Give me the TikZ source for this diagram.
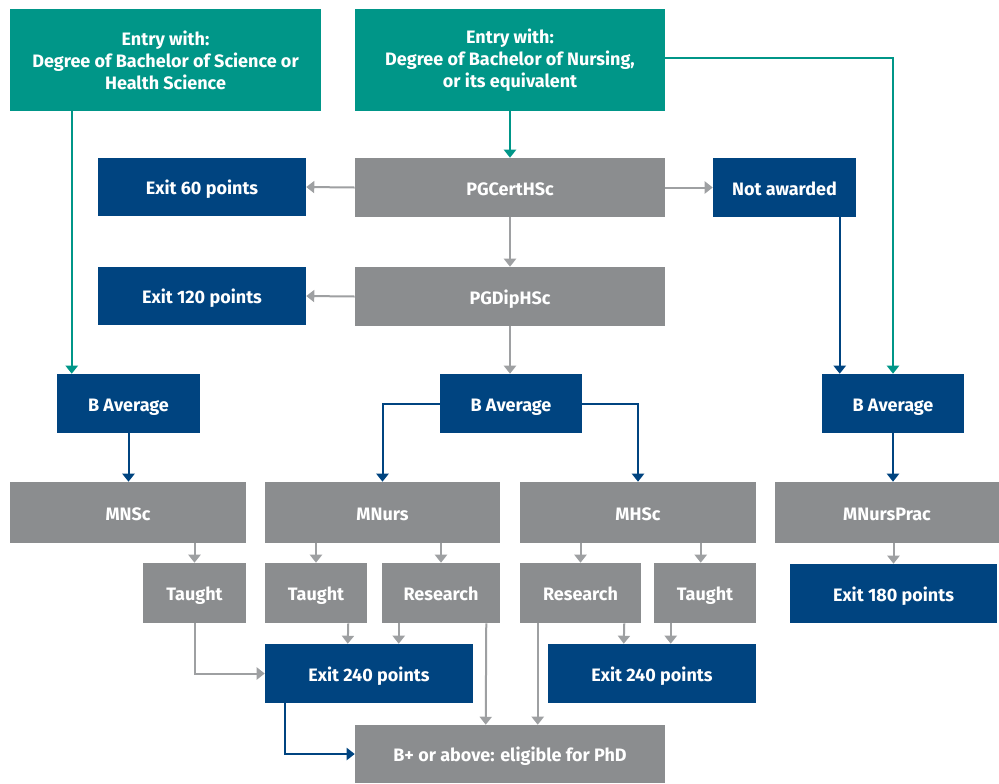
\documentclass[tikz,border=0pt]{standalone}
\usepackage{fontspec}
\setmainfont{Fira Sans}
\usetikzlibrary{arrows.meta,positioning,calc}
\definecolor{uoateal}{RGB}{0,150,136}
\definecolor{uoanavy}{RGB}{0,68,128}
\definecolor{uoagrey}{RGB}{139,141,143}
\definecolor{uoaline}{RGB}{158,160,162}

\begin{document}
\begin{tikzpicture}[
  x=0.75pt, y=-0.75pt,
  box/.style 2 args={
    rectangle, inner sep=0pt, text=white, align=center,
    minimum width=#1*0.75pt, minimum height=#2*0.75pt,
    font=\fontsize{13.5}{16.5}\selectfont\bfseries
  },
  oneline/.style={text height=11.5pt, text depth=0pt},
  entrybox/.style 2 args={box={#1}{#2}, fill=uoateal},
  greybox/.style 2 args={box={#1}{#2}, oneline, fill=uoagrey},
  navybox/.style 2 args={box={#1}{#2}, oneline, fill=uoanavy},
  link/.style={line width=1.5pt, -{Triangle[width=9pt,length=6pt]}},
  tealptr/.style={link, uoateal},
  greyptr/.style={link, uoaline},
  navyptr/.style={link, uoanavy}
]
  \useasboundingbox (0,0) rectangle (999,783);

  % entry routes
  \node[entrybox={311}{102}] (entryA) at (165.5,60) {Entry with:\\Degree of Bachelor of Science or\\Health Science};
  \node[entrybox={310}{102}] (entryB) at (510,60) {Entry with:\\Degree of Bachelor of Nursing,\\or its equivalent};

  % postgraduate certificate and diploma
  \node[greybox={310}{59}] (cert) at (510,187.5) {PGCertHSc};
  \node[navybox={208}{58}] (exitsixty) at (202,187) {Exit 60 points};
  \node[navybox={143}{59}] (notaw) at (784.5,187.5) {Not awarded};
  \node[greybox={310}{59}] (dip) at (510,296.5) {PGDipHSc};
  \node[navybox={208}{58}] (exitonetwenty) at (202,296) {Exit 120 points};

  % grade checks
  \node[navybox={143}{59}] (bavgA) at (128.5,403.5) {B Average};
  \node[navybox={142}{59}] (bavgB) at (511,403.5) {B Average};
  \node[navybox={142}{59}] (bavgC) at (893,403.5) {B Average};

  % masters programmes
  \node[greybox={236}{61}] (mnsc) at (128,512.5) {MNSc};
  \node[greybox={235}{61}] (mnurs) at (382.5,512.5) {MNurs};
  \node[greybox={236}{61}] (mhsc) at (638,512.5) {MHSc};
  \node[greybox={224}{61}] (mnp) at (887,512.5) {MNursPrac};

  % pathways
  \node[greybox={103}{60}] (taughtA) at (194.5,593) {Taught};
  \node[greybox={102}{60}] (taughtB) at (316,593) {Taught};
  \node[greybox={118}{60}] (researchB) at (441,593) {Research};
  \node[greybox={121}{60}] (researchC) at (580.5,593) {Research};
  \node[greybox={102}{60}] (taughtC) at (705,593) {Taught};
  \node[navybox={207}{59}] (exitoneeighty) at (893.5,593.5) {Exit 180 points};

  % exits
  \node[navybox={208}{59}] (exitL) at (369,673.5) {Exit 240 points};
  \node[navybox={208}{59}] (exitR) at (652,673.5) {Exit 240 points};
  \node[greybox={310}{58}] (phd) at (510,754) {B+ or above: eligible for PhD};

  % teal connectors
  \draw[tealptr] ($(entryA.south west)+(62,0)$) -- ($(bavgA.north west)+(15,0)$);
  \draw[tealptr] (entryB.south) -- (cert.north);
  \draw[tealptr] ($(entryB.north east)+(0,49)$) -| (bavgC.north);

  % grey connectors
  \draw[greyptr] (cert.west) -- (exitsixty.east);
  \draw[greyptr] (cert.east) -- (notaw.west);
  \draw[greyptr] (cert.south) -- (dip.north);
  \draw[greyptr] (dip.west) -- (exitonetwenty.east);
  \draw[greyptr] (dip.south) -- (dip.south |- bavgB.north);
  \draw[greyptr] (taughtA.north |- mnsc.south) -- (taughtA.north);
  \draw[greyptr] (taughtB.north |- mnurs.south) -- (taughtB.north);
  \draw[greyptr] (researchB.north |- mnurs.south) -- (researchB.north);
  \draw[greyptr] (researchC.north |- mhsc.south) -- (researchC.north);
  \draw[greyptr] ($(taughtC.north west)+(47,-20)$) -- ($(taughtC.north west)+(47,0)$);
  \draw[greyptr] (exitoneeighty.north |- mnp.south) -- (exitoneeighty.north);
  \draw[greyptr] (taughtA.south) |- (exitL.west);
  \draw[greyptr] ($(taughtB.south east)+(-19,0)$) -- ($(exitL.north west)+(83,0)$);
  \draw[greyptr] ($(researchB.south west)+(17,0)$) -- ($(exitL.north west)+(134,0)$);
  \draw[greyptr] ($(researchB.south east)+(-14,0)$) -- ($(phd.north west)+(131,0)$);
  \draw[greyptr] ($(researchC.south west)+(18,0)$) -- ($(phd.north west)+(183,0)$);
  \draw[greyptr] ($(researchC.south east)+(-17,0)$) -- ($(exitR.north west)+(76,0)$);
  \draw[greyptr] ($(taughtC.south west)+(17,0)$) -- ($(exitR.north west)+(123,0)$);

  % navy connectors
  \draw[navyptr] ($(notaw.south west)+(127,0)$) -- ($(bavgC.north west)+(18,0)$);
  \draw[navyptr] (bavgA.south) -- (bavgA.south |- mnsc.north);
  \draw[navyptr] (bavgB.west) -| (mnurs.north);
  \draw[navyptr] (bavgB.east) -| (mhsc.north);
  \draw[navyptr] (bavgC.south) -- (bavgC.south |- mnp.north);
  \draw[navyptr] ($(exitL.south west)+(20,0)$) |- (phd.west);
\end{tikzpicture}
\end{document}
